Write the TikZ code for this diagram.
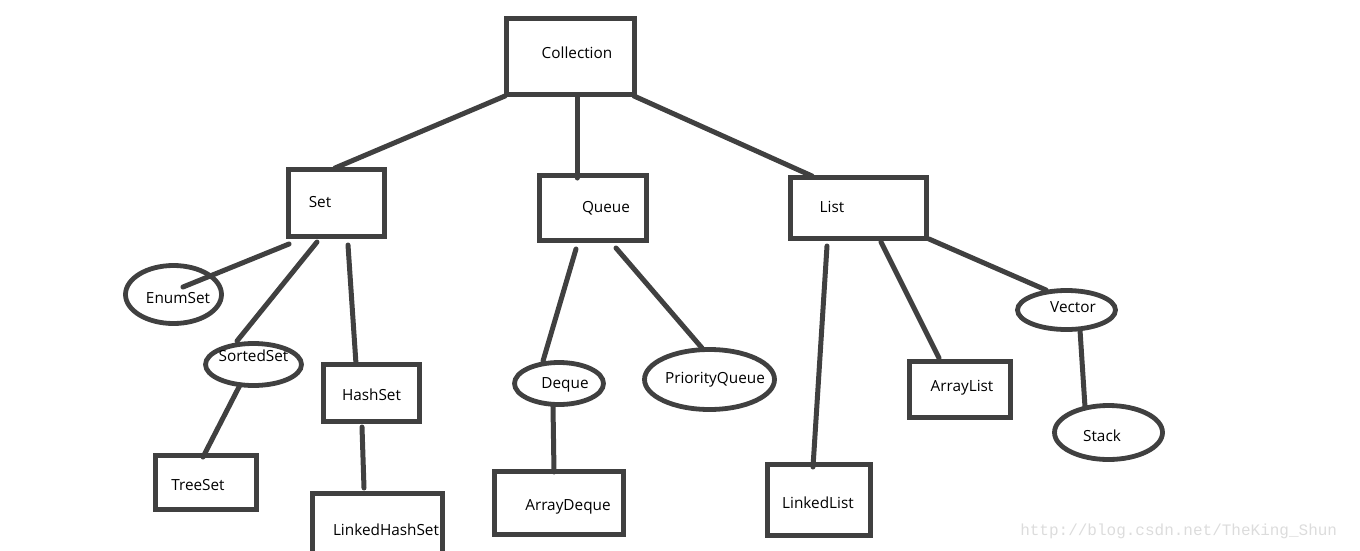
\documentclass[tikz,border=0pt]{standalone}
\usepackage{fontspec}
\setmainfont{Open Sans}
\setmonofont{Liberation Mono}
\usetikzlibrary{calc,shapes.geometric}
\definecolor{ink}{HTML}{404040}
\definecolor{wmgray}{HTML}{DCDCDC}
\begin{document}
\begin{tikzpicture}[x=0.75pt,y=-0.75pt,
  txt/.style={font=\fontsize{11.5}{13}\selectfont, text=black, inner sep=0pt},
  tl/.style n args={3}{label={[txt,xshift=(#1)*(0.75pt),yshift=(#2)*(-0.75pt)]center:#3}},
  box/.style n args={2}{draw=ink, line width=3.75pt, rectangle, minimum width=#1*0.75pt, minimum height=#2*0.75pt, inner sep=0pt},
  oval/.style n args={2}{draw=ink, line width=3.6pt, ellipse, minimum width=#1*0.75pt, minimum height=#2*0.75pt, inner sep=0pt},
  conn/.style={draw=ink, line width=3.75pt, line cap=round}]
\useasboundingbox (0,0) rectangle (1360,550);
\clip (0,0) rectangle (1360,550);
% boxes
\node[box={128}{76}, tl={6.5}{-3.5}{Collection}] (coll) at (570.5,56.5) {};
\node[box={96}{67}, tl={-16.5}{-1}{Set}] (set) at (336.5,203) {};
\node[box={107}{65}, tl={13}{0}{Queue}] (queue) at (593,208) {};
\node[box={136}{61}, tl={-26.5}{-1}{List}] (list) at (858.5,208) {};
\node[box={96}{57}, tl={0}{2}{HashSet}] (hash) at (371.5,393) {};
\node[box={101}{54}, tl={-8}{2.5}{TreeSet}] (tree) at (206,482.5) {};
\node[box={130}{60}, tl={8.5}{6.5}{LinkedHashSet}] (lhs) at (377.5,523.5) {};
\node[box={129}{63}, tl={9}{4}{ArrayDeque}] (ad) at (559,503) {};
\node[box={101}{56}, tl={2}{-1.5}{ArrayList}] (al) at (960,389.5) {};
\node[box={103}{71}, tl={-1}{3}{LinkedList}] (ll) at (819,500) {};
% ellipses
\node[oval={96}{58}, tl={4.5}{3.5}{EnumSet}] (enum) at (173.5,294.5) {};
\node[oval={96}{42}, tl={0}{-8.5}{SortedSet}] (sorted) at (253.5,364.5) {};
\node[oval={89}{42}, tl={6}{1.5}{Deque}] (deque) at (559,383.5) {};
\node[oval={130}{60}, tl={5.5}{0}{PriorityQueue}] (pq) at (709.5,379.5) {};
\node[oval={98}{39}, tl={6.5}{-3}{Vector}] (vec) at (1066.5,310) {};
\node[oval={108}{54}, tl={-6.5}{3.5}{Stack}] (stack) at (1108.5,432.5) {};
% connectors
\draw[conn] ($(coll)+(-65.5,39.5)$) -- ($(set)+(-1.5,-35)$);
\draw[conn] ($(coll)+(6.5,40.5)$) -- ($(queue)+(-16,-30)$);
\draw[conn] ($(coll)+(63.5,39.5)$) -- ($(list)+(-46.5,-32)$);
\draw[conn] ($(set)+(-47.5,41)$) -- ($(enum)+(9.5,-7.5)$);
\draw[conn] ($(set)+(-19.5,39)$) -- ($(sorted)+(-16.5,-23.5)$);
\draw[conn] ($(set)+(11.5,42)$) -- ($(hash)+(-15.5,-29)$);
\draw[conn] ($(sorted)+(-13.5,20.5)$) -- ($(tree)+(-3,-25.5)$);
\draw[conn] ($(hash)+(-9.5,34)$) -- ($(lhs)+(-13.5,-35.5)$);
\draw[conn] ($(queue)+(-17,41)$) -- ($(deque)+(-16,-22.5)$);
\draw[conn] ($(queue)+(23,40)$) -- ($(pq)+(-7.5,-31.5)$);
\draw[conn] ($(deque)+(-6,22.5)$) -- ($(ad)+(-5,-31)$);
\draw[conn] ($(list)+(-31.5,38)$) -- ($(ll)+(-6,-33)$);
\draw[conn] ($(list)+(22.5,34)$) -- ($(al)+(-21,-31.5)$);
\draw[conn] ($(list)+(70.5,31)$) -- ($(vec)+(-20.5,-20)$);
\draw[conn] ($(vec)+(13.5,20)$) -- ($(stack)+(-23.5,-25.5)$);
% watermark
\node[anchor=base west, inner sep=0pt, text=wmgray, font=\ttfamily\fontsize{12}{14}\selectfont] (wm) at (1020,535) {http://blog.csdn.net/TheKing\_Shun};
\end{tikzpicture}
\end{document}
